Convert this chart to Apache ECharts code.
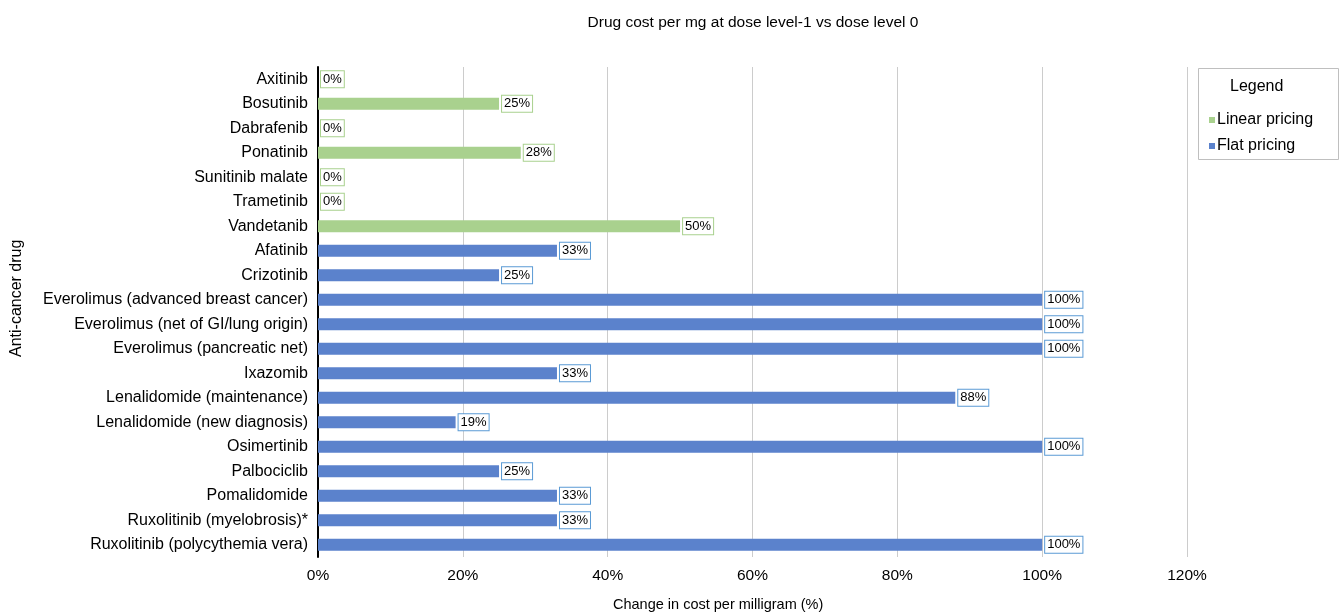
<!DOCTYPE html>
<html><head><meta charset="utf-8">
<script src="https://cdn.jsdelivr.net/npm/echarts@6/dist/echarts.min.js"></script>
<style>html,body{margin:0;padding:0;background:#fff}#c{width:1341px;height:615px}</style>
</head><body><div id="c"></div>
<script>
const categories = ["Axitinib","Bosutinib","Dabrafenib","Ponatinib","Sunitinib malate","Trametinib","Vandetanib","Afatinib","Crizotinib","Everolimus (advanced breast cancer)","Everolimus (net of GI/lung origin)","Everolimus (pancreatic net)","Ixazomib","Lenalidomide (maintenance)","Lenalidomide (new diagnosis)","Osimertinib","Palbociclib","Pomalidomide","Ruxolitinib (myelobrosis)*","Ruxolitinib (polycythemia vera)"];
const linearPricing = [0,25,0,28,0,0,50,null,null,null,null,null,null,null,null,null,null,null,null,null];
const flatPricing = [null,null,null,null,null,null,null,33,25,100,100,100,33,88,19,100,25,33,33,100];
const xTicks = [0,20,40,60,80,100,120];

const font = "'Liberation Sans', Arial, sans-serif";
const chart = echarts.init(document.getElementById('c'));
function lbl(color){
  return {show:true, position:'right', distance:3, color:'#000', fontFamily:font, fontSize:13,
    backgroundColor:'#fff', borderColor:color, borderWidth:1, padding:[2,2,1,2],
    formatter: p => p.value + '%'};
}
chart.setOption({
  animation:false,
  title:{text:'Drug cost per mg at dose level-1 vs dose level 0', left:748, top:10, textAlign:'center',
    textStyle:{fontFamily:font, fontSize:15.5, fontWeight:'normal', color:'#000'}},
  grid:{left:318, right:154, top:67, bottom:58},
  xAxis:{type:'value', min:0, max:120, interval:20,
    axisLabel:{formatter:v=>v+'%', color:'#000', fontFamily:font, fontSize:15.5, margin:11},
    axisLine:{show:false}, axisTick:{show:false},
    splitLine:{lineStyle:{color:'#cccccc', width:1}}},
  yAxis:{type:'category', data:categories, inverse:true,
    axisLine:{show:true, lineStyle:{color:'#000', width:2}}, axisTick:{show:false},
    axisLabel:{color:'#000', fontFamily:font, fontSize:16, margin:10}},
  legend:{orient:'vertical', left:1204, top:107, itemWidth:6, itemHeight:6, itemGap:10, icon:'rect',
    textStyle:{fontFamily:font, fontSize:16, color:'#000', padding:[0,0,0,-3]},
    data:['Linear pricing','Flat pricing']},
  graphic:[
    {type:'rect', shape:{x:1198.5, y:68.5, width:140, height:91}, style:{fill:'none', stroke:'#bfbfbf', lineWidth:1}},
    {type:'text', x:1230, y:79, style:{text:'Legend', font:"16px 'Liberation Sans', Arial", fill:'#000'}},
    {type:'text', x:613, y:597, style:{text:'Change in cost per milligram (%)', font:"14.5px 'Liberation Sans', Arial", fill:'#000'}},
    {type:'text', x:9, y:357, rotation:Math.PI/2, style:{text:'Anti-cancer drug', font:"16px 'Liberation Sans', Arial", fill:'#000'}}
  ],
  series:[
    {name:'Linear pricing', type:'bar', stack:'s', data:linearPricing, barWidth:12,
      itemStyle:{color:'#a9d18e'}, label:lbl('#a9d18e')},
    {name:'Flat pricing', type:'bar', stack:'s', data:flatPricing, barWidth:12,
      itemStyle:{color:'#5b82cc'}, label:lbl('#5b9bd5')}
  ]
});
</script></body></html>
